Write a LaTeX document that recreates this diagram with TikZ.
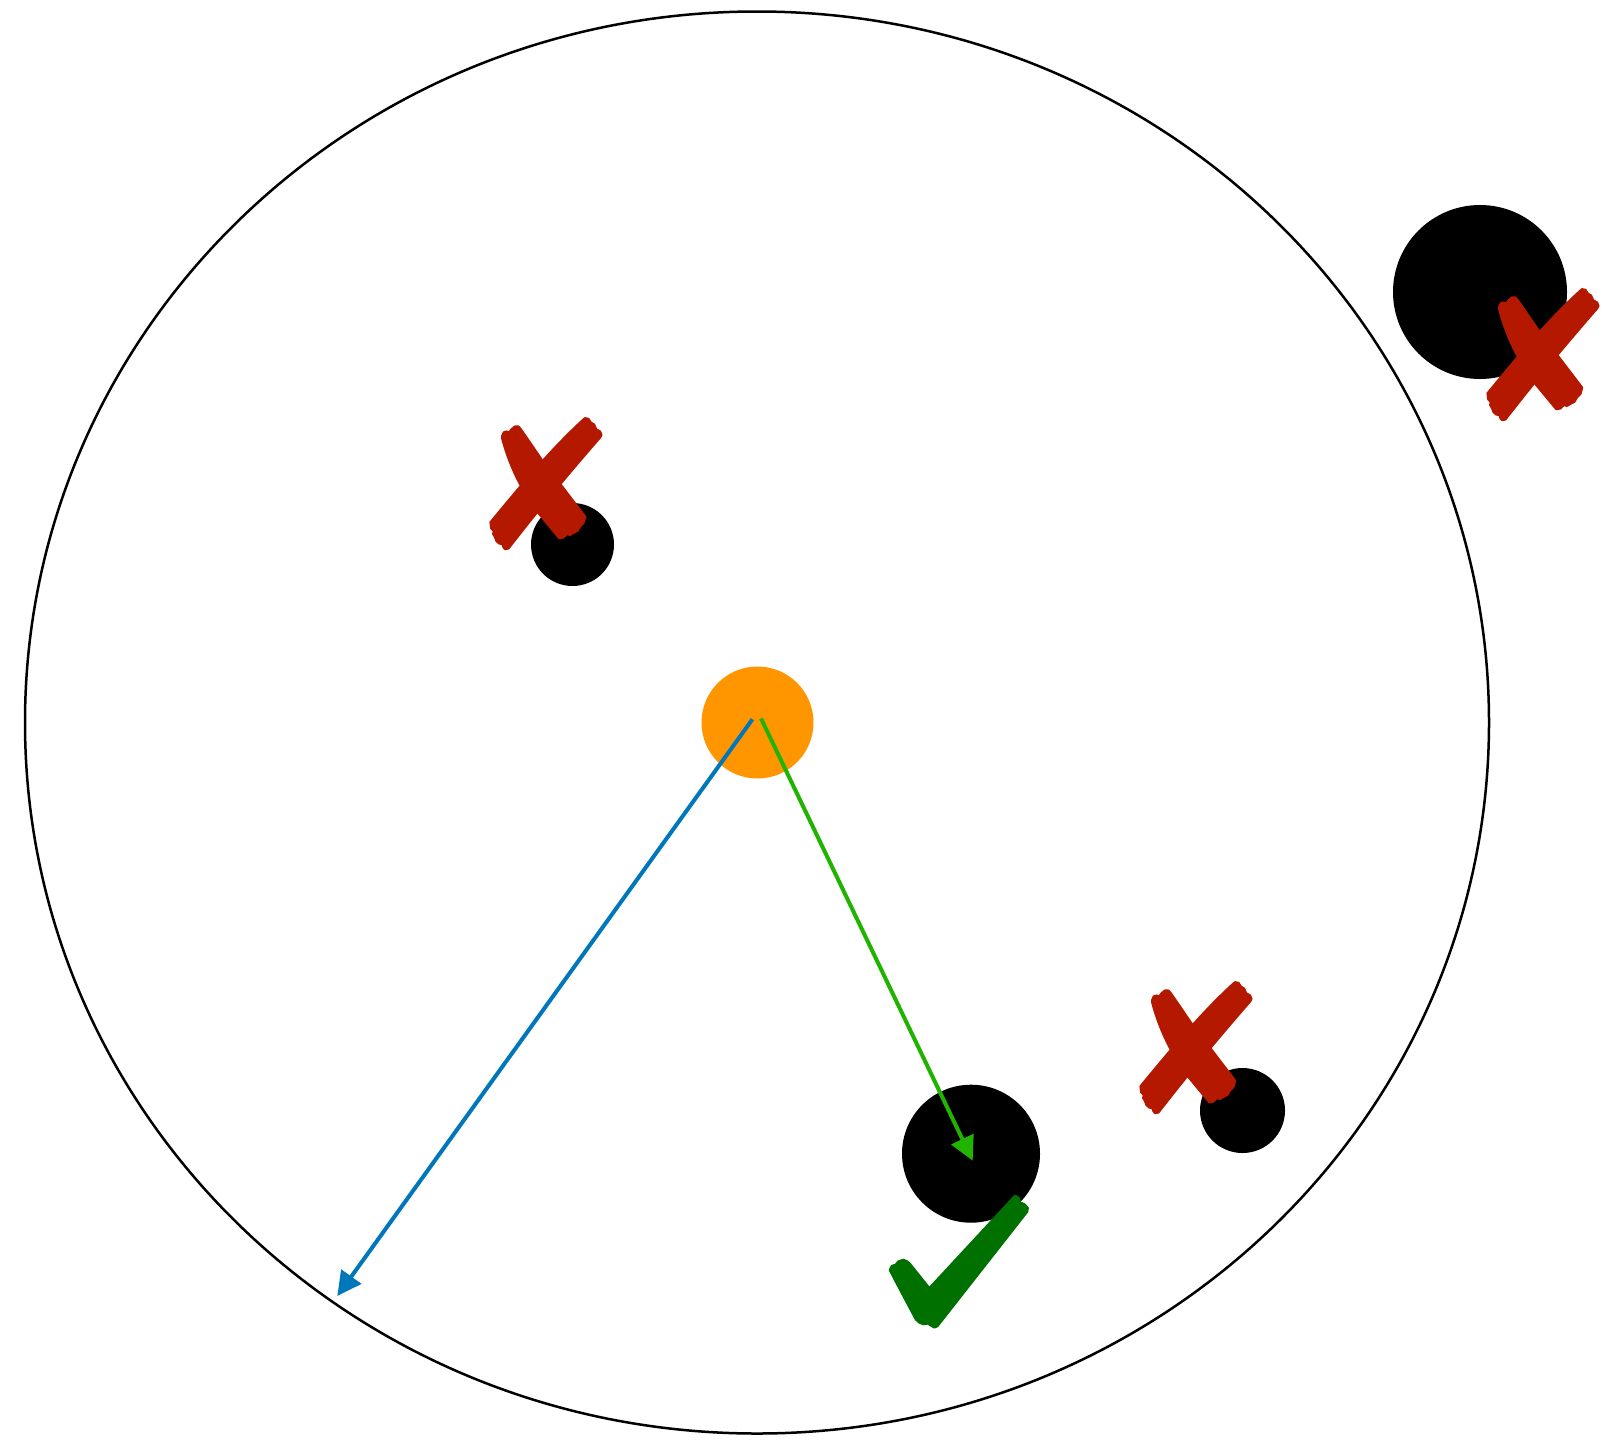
\documentclass[tikz,border=0pt]{standalone}
\usetikzlibrary{arrows.meta}
\definecolor{xorange}{RGB}{255,150,0}
\definecolor{xblue}{RGB}{0,119,187}
\definecolor{xgreen}{RGB}{32,180,0}
\definecolor{xcheck}{RGB}{0,112,0}
\definecolor{xred}{RGB}{180,25,0}
\tikzset{
  dot/.style={circle, fill=black, inner sep=0pt, outer sep=0pt, minimum size=#1},
  arr/.style={line width=4pt, -{Triangle[length=24pt,width=24pt]}},
  brush/.style={fill=#1, draw=#1, line width=2.5pt, line join=round},
  crossmark/.pic={
    \begin{scope}[scale=1/3]
    \path[brush=xred] (97,108) -- (102,97) -- (110,95) -- (117,99) -- (125,88) -- (135,80) -- (145,80) -- (152,88)
      .. controls (180,128) and (200,158) .. (215,180) -- (345,350)
      -- (340,368) -- (330,378) -- (322,392) -- (310,398) -- (300,404) -- (290,402) -- (280,412) -- (268,414)
      -- (205,338) .. controls (150,265) and (115,185) .. (97,115) -- cycle;
    \path[brush=xred] (345,55) -- (355,57) -- (362,68) -- (372,74) -- (378,88) -- (390,95) -- (394,105) -- (390,112)
      .. controls (300,215) and (200,335) .. (115,445)
      -- (105,447) -- (100,440) -- (98,432) -- (88,430) -- (80,423) -- (75,410) -- (70,402) -- (72,392) -- (64,385) -- (62,367)
      .. controls (150,260) and (250,140) .. (345,55) -- cycle;
    \end{scope}
  },
  checkmark/.pic={
    \begin{scope}[scale=1/3]
    \path[brush=xcheck] (405,48) -- (415,53) -- (420,68) -- (433,73) -- (443,84) -- (441,95)
      -- (172,438) -- (163,442) -- (153,436) -- (143,430) -- (130,432) -- (118,427) -- (108,418)
      .. controls (80,365) and (50,310) .. (30,270)
      -- (36,258) -- (47,255) -- (55,245) -- (70,240) -- (80,244) -- (88,250)
      -- (148,325) -- cycle;
    \end{scope}
  }
}
\begin{document}
\begin{tikzpicture}[x=1pt,y=-1pt]
\useasboundingbox[fill=white] (0,0) rectangle (1614,1441);
% big ellipse
\draw[line width=2.5pt] (757,722.5) ellipse [x radius=732pt, y radius=711pt];
% circles
\node[circle, fill=xorange, inner sep=0pt, minimum size=112pt] (o) at (757.5,722.5) {};
\node[dot=83pt] (c1) at (572.5,544.5) {};
\node[dot=174pt] (c2) at (1480,292) {};
\node[dot=138pt] (c3) at (971,1153.7) {};
\node[dot=85pt] (c4) at (1242.5,1110.5) {};
% arrows
\coordinate (bs) at (752.4,719.3);
\coordinate (be) at (337.3,1296);
\coordinate (gs) at (761,718.4);
\coordinate (ge) at (972.7,1160.7);
\draw[arr, xblue] (bs) -- (be);
\draw[arr, xgreen] (gs) -- (ge);
% marks
\pic at (470,400) {crossmark};
\pic at (1120,964) {crossmark};
\pic at (1467,271) {crossmark};
\pic at (880,1180) {checkmark};
\end{tikzpicture}
\end{document}
